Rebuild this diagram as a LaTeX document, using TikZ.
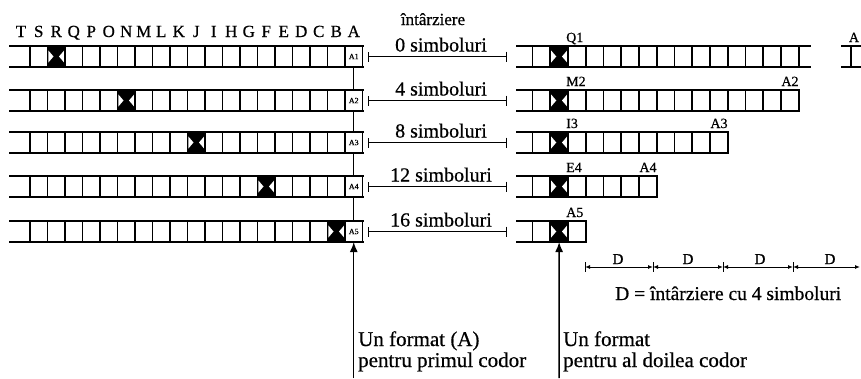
\documentclass[tikz,border=0pt]{standalone}
\usepackage{fontspec}
\setmainfont{Liberation Serif}[FakeBold=0.6]
\usetikzlibrary{arrows.meta,calc}
\newcommand{\fsz}[1]{\fontsize{#1}{#1}\selectfont}

\begin{document}
\begin{tikzpicture}[x=1pt,y=-1pt,
  cell/.style={draw, line width=1.7pt, minimum width=17.5pt, minimum height=21pt,
    inner sep=0pt, outer sep=0pt, fill=white},
  rcell/.style={cell, minimum width=17.75pt},
  hot/.style={fill=black, path picture={
    \fill[white] ([xshift=0.9pt,yshift=-4.5pt]path picture bounding box.north west)
      -- ([xshift=6pt]path picture bounding box.west)
      -- ([xshift=0.9pt,yshift=4.5pt]path picture bounding box.south west) -- cycle;
    \fill[white] ([xshift=-0.9pt,yshift=-4.5pt]path picture bounding box.north east)
      -- ([xshift=-6pt]path picture bounding box.east)
      -- ([xshift=-0.9pt,yshift=4.5pt]path picture bounding box.south east) -- cycle;}},
  hotif/.code={\ifnum#1=\hotc\relax\pgfkeysalso{hot}\fi},
  rail/.style={line width=2.6pt, line cap=rect},
  delay/.style={line width=1.1pt, {Bar[width=10pt]}-{Bar[width=10pt]}},
  link/.style={line width=1.4pt},
  uparrow/.style={line width=1.4pt, -{Latex[length=10pt,width=8pt]}},
  dimseg/.style={line width=1pt, {Latex[length=5pt,width=4pt]}-{Latex[length=5pt,width=4pt]}},
  dimbar/.style={line width=1pt},
  lbl/.style={inner sep=0pt, anchor=base},
]
\useasboundingbox (0,0) rectangle (861,378);

% symbol names above the first interleaver (T marks the open stub)
\node[lbl, font=\fsz{17}] (hT) at (21,37) {T};
\foreach \ch [count=\k from 0] in {S,R,Q,P,O,N,M,L,K,J,I,H,G,F,E,D,C,B,A}
  \node[lbl, font=\fsz{17}] (h\ch) at ({38.75+17.5*\k},37) {\ch};

\node[lbl, font=\fsz{17}] (hdelay) at (433,25) {întârziere};

% first interleaver: five branches of 19 cells plus an open stub
\foreach \r/\cy/\hotc/\lab in {1/56.5/1/0,2/100.5/5/4,3/142.5/9/8,4/186.5/13/12,5/231.5/17/16}{
  \foreach \c in {0,...,18}
    \node[cell, hotif=\c] (L\r-\c) at ({38.75+17.5*\c},\cy) {};
  \node[font=\fsz{8}, inner sep=0pt] (la\r) at (L\r-18) {A\r};
  \draw[rail] (10,\cy-10.5) -- (L\r-18.north east);
  \draw[rail] (10,\cy+10.5) -- (L\r-18.south east);
  % delay marker between the two interleavers
  \coordinate (d\r a) at (368,\cy);
  \coordinate (d\r b) at (507,\cy);
  \draw[delay] (d\r a) -- (d\r b);
  \node[lbl, font=\fsz{20}] (dl\r) at (441,\cy-5) {\lab{} simboluri};
}

% line joining the A cells of the first interleaver
\draw[link] (L1-18.south) -- (L2-18.north);
\draw[link] (L2-18.south) -- (L3-18.north);
\draw[link] (L3-18.south) -- (L4-18.north);
\draw[link] (L4-18.south) -- (L5-18.north);

% second interleaver: branches of decreasing length
\foreach \r/\cy/\last/\hotc in {1/56.5/14/1,2/100.5/14/1,3/142.5/10/1,4/186.5/6/1,5/231.5/2/1}{
  \foreach \c in {0,...,\last}
    \node[rcell, hotif=\c] (R\r-\c) at ({541.375+17.75*\c},\cy) {};
  \draw[rail] (517,\cy-10.5) -- (R\r-\last.north east);
  \draw[rail] (517,\cy+10.5) -- (R\r-\last.south east);
}
\draw[rail] (R1-14.north east) -- ++(11,0);
\draw[rail] (R1-14.south east) -- ++(11,0);

% labels of the second interleaver
\node[lbl, anchor=base west, font=\fsz{14}] (q1) at (566,42) {Q1};
\node[lbl, anchor=base west, font=\fsz{14}] (m2) at (566,86) {M2};
\node[lbl, anchor=base west, font=\fsz{14}] (i3) at (566,128) {I3};
\node[lbl, anchor=base west, font=\fsz{14}] (e4) at (566,172) {E4};
\node[lbl, anchor=base west, font=\fsz{14}] (a5) at (566,217) {A5};
\node[lbl, anchor=base east, font=\fsz{14}] (a2) at (798.75,86) {A2};
\node[lbl, anchor=base east, font=\fsz{14}] (a3) at (727.75,128) {A3};
\node[lbl, anchor=base east, font=\fsz{14}] (a4) at (656.75,172) {A4};

% start of the next frame
\node[rcell] (Rx) at (859.9,56.5) {};
\draw[rail] (842,46) -- (861,46);
\draw[rail] (842,67) -- (861,67);
\node[lbl, font=\fsz{14}] (ax) at (854,42) {A};

% pointers to the frames
\coordinate (f1) at (353.75,378);
\coordinate (f2) at (559.1,378);
\draw[uparrow] (f1) -- (L5-18.south);
\draw[uparrow] (f2) -- (R5-1.south);

\node[lbl, anchor=base west, font=\fsz{21}] (u1) at (358,346) {Un format (A)};
\node[lbl, anchor=base west, font=\fsz{21}] (u2) at (358,367) {pentru primul codor};
\node[lbl, anchor=base west, font=\fsz{21}] (v1) at (563,346) {Un format};
\node[lbl, anchor=base west, font=\fsz{21}] (v2) at (563,367) {pentru al doilea codor};

% delay scale
\coordinate (b1) at (585,267);
\coordinate (b2) at (653,267);
\coordinate (b3) at (723,267);
\coordinate (b4) at (793,267);
\coordinate (b5) at (860,267);
\foreach \b in {b1,b2,b3,b4}
  \draw[dimbar] ([yshift=5pt]\b) -- ([yshift=-5pt]\b);
\draw[dimseg] (b1) -- (b2);
\draw[dimseg] (b2) -- (b3);
\draw[dimseg] (b3) -- (b4);
\draw[dimseg] (b4) -- (b5);
\foreach \n/\xx in {1/618,2/688,3/760,4/830}
  \node[lbl, font=\fsz{15}] (dd\n) at (\xx,264) {D};
\node[lbl, anchor=base west, font=\fsz{19.5}] (dlegend) at (615,300) {D = întârziere cu 4 simboluri};
\end{tikzpicture}
\end{document}
